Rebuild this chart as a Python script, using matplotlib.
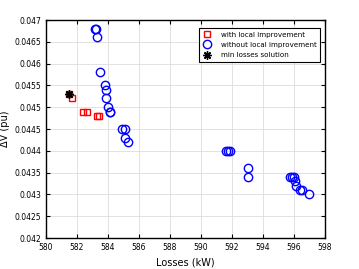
import matplotlib
matplotlib.use("Agg")
import matplotlib.pyplot as plt

# with local improvement (red squares)
with_x = [581.5, 581.7, 582.4, 582.65, 583.3, 583.4]
with_y = [0.0453, 0.0452, 0.0449, 0.0449, 0.0448, 0.0448]

# without local improvement (blue circles)
without_x = [583.15, 583.2, 583.3, 583.5, 583.8, 583.9, 583.9, 584.0, 584.1, 584.15,
             584.9, 585.1, 585.1, 585.3,
             591.6, 591.75, 591.9, 593.05, 593.05,
             595.75, 595.9, 596.0, 596.05, 596.1, 596.4, 596.5, 596.95]
without_y = [0.0468, 0.0468, 0.0466, 0.0458, 0.0455, 0.0454, 0.0452, 0.0450, 0.0449, 0.0449,
             0.0445, 0.0445, 0.0443, 0.0442,
             0.0440, 0.0440, 0.0440, 0.0436, 0.0434,
             0.0434, 0.0434, 0.0434, 0.0433, 0.0432, 0.0431, 0.0431, 0.0430]

# min losses solution
best_x = [581.5]
best_y = [0.0453]

xticks = [580, 582, 584, 586, 588, 590, 592, 594, 596, 598]
yticks = [0.042, 0.0425, 0.043, 0.0435, 0.044, 0.0445, 0.045, 0.0455, 0.046, 0.0465, 0.047]

fig = plt.figure(figsize=(3.59, 2.69), dpi=100)
ax = fig.add_axes([46 / 359, 1 - 238 / 269, (325 - 46) / 359, (238 - 20) / 269])

ax.plot(with_x, with_y, "s", mfc="none", mec="red", ms=4.5, mew=1.0,
        label="with local improvement")
ax.plot(without_x, without_y, "o", mfc="none", mec="blue", ms=6, mew=1.0,
        label="without local improvement")
ax.plot(best_x, best_y, marker=(8, 2, 0), ls="none", color="black", ms=6, mew=1.0,
        label="min losses solution")

ax.set_xlim(580, 598)
ax.set_ylim(0.042, 0.047)
ax.set_xticks(xticks)
ax.set_yticks(yticks)
ax.set_xticklabels([str(t) for t in xticks])
ax.set_yticklabels([("%g" % t) for t in yticks])
ax.tick_params(direction="in", top=True, right=True, labelsize=5.5, length=3, width=0.8)
ax.grid(True, color="#dddddd", linewidth=0.6)
ax.set_axisbelow(True)
for s in ax.spines.values():
    s.set_linewidth(1.0)

ax.set_xlabel("Losses (kW)", fontsize=7, labelpad=4)
ax.set_ylabel("ΔV (pu)", fontsize=7, labelpad=3)

leg = ax.legend(loc="upper right", bbox_to_anchor=(320 / 359, 1 - 28 / 269),
                bbox_transform=fig.transFigure, borderaxespad=0, fontsize=5.1,
                fancybox=False, framealpha=1, edgecolor="black",
                handlelength=1.2, handletextpad=1.4, borderpad=0.5, labelspacing=0.6)
leg.get_frame().set_linewidth(0.8)

fig.savefig("out.png", dpi=100)
